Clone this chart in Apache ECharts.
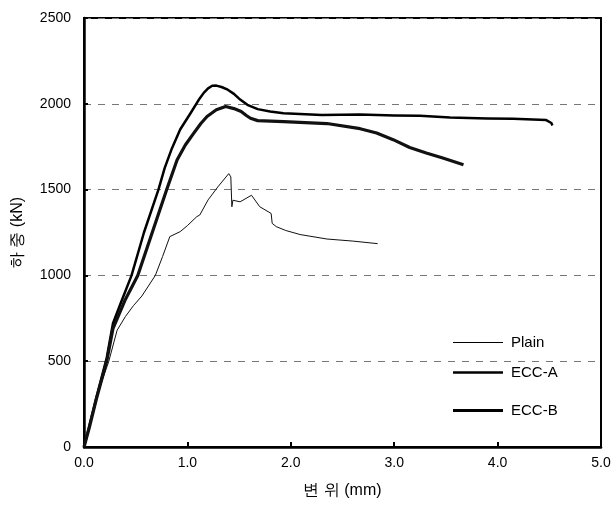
<!DOCTYPE html>
<html>
<head>
<meta charset="utf-8">
<script src="https://cdn.jsdelivr.net/npm/echarts@6/dist/echarts.min.js"></script>
<style>
  html, body { margin: 0; padding: 0; background: #fff; }
  #chart { width: 615px; height: 519px; }
</style>
</head>
<body>
<div id="chart"></div>
<script>
// Load–displacement curves
const xTicks = [0, 1, 2, 3, 4, 5];
const yTicks = [0, 500, 1000, 1500, 2000, 2500];

const plainDisp = [0, 0.05, 0.10, 0.16, 0.24, 0.32, 0.40, 0.48, 0.56, 0.69, 0.76, 0.83, 0.93, 1.00, 1.09, 1.12, 1.20, 1.30, 1.40, 1.42, 1.43, 1.44, 1.51, 1.62, 1.70, 1.81, 1.82, 1.86, 1.95, 2.09, 2.35, 2.60, 2.84];
const plainLoad = [0, 110, 230, 360, 500, 680, 760, 825, 880, 1000, 1110, 1226, 1255, 1290, 1342, 1352, 1440, 1520, 1593, 1574, 1400, 1438, 1429, 1467, 1400, 1361, 1303, 1284, 1262, 1238, 1212, 1200, 1185];

const eccADisp = [0, 0.05, 0.12, 0.22, 0.28, 0.35, 0.46, 0.58, 0.72, 0.78, 0.85, 0.93, 1.03, 1.11, 1.16, 1.20, 1.24, 1.28, 1.33, 1.39, 1.45, 1.50, 1.58, 1.68, 1.80, 1.93, 2.30, 2.67, 3.00, 3.25, 3.54, 3.90, 4.15, 4.47, 4.52, 4.53];
const eccALoad = [0, 120, 290, 520, 720, 830, 1000, 1250, 1500, 1625, 1740, 1850, 1945, 2023, 2065, 2090, 2105, 2106, 2098, 2082, 2058, 2030, 1994, 1969, 1955, 1945, 1935, 1938, 1932, 1930, 1920, 1915, 1913, 1905, 1888, 1874];

const eccBDisp = [0, 0.05, 0.12, 0.22, 0.28, 0.40, 0.52, 0.66, 0.80, 0.90, 0.98, 1.06, 1.13, 1.19, 1.28, 1.37, 1.45, 1.52, 1.57, 1.61, 1.68, 1.93, 2.35, 2.67, 2.83, 2.99, 3.15, 3.31, 3.47, 3.67];
const eccBLoad = [0, 110, 280, 500, 690, 860, 1000, 1250, 1500, 1672, 1760, 1828, 1885, 1926, 1965, 1984, 1972, 1955, 1932, 1916, 1902, 1896, 1885, 1855, 1830, 1791, 1745, 1713, 1684, 1645];

const seriesNames = ['Plain', 'ECC-A', 'ECC-B'];
const lineWidths = [1, 2.5, 3.2];

function pairs(xs, ys) { return xs.map((x, i) => [x, ys[i]]); }

const chart = echarts.init(document.getElementById('chart'));
const font = 'Liberation Sans, Arial, sans-serif';

function legendFor(i, top) {
  return {
    data: [seriesNames[i]],
    left: 448,
    top: top,
    orient: 'vertical',
    icon: 'rect',
    itemWidth: 50,
    itemHeight: lineWidths[i],
    itemGap: 0,
    itemStyle: { color: '#000' },
    textStyle: { fontFamily: font, fontSize: 15, color: '#000', padding: [0, 0, 0, 3] },
    selectedMode: false
  };
}

chart.setOption({
  animation: false,
  backgroundColor: '#fff',
  grid: {
    left: 84, right: 14, top: 18, bottom: 72,
    show: true, borderColor: '#000', borderWidth: 2
  },
  legend: [legendFor(0, 330), legendFor(1, 360), legendFor(2, 398)],
  xAxis: {
    type: 'value',
    min: xTicks[0], max: xTicks[xTicks.length - 1], interval: 1,
    name: '변 위 (mm)',
    nameLocation: 'middle',
    nameGap: 36,
    nameTextStyle: { fontFamily: font, fontSize: 16, color: '#000' },
    axisLine: { show: true, lineStyle: { color: '#000', width: 2.5 } },
    axisTick: { show: true, inside: true, length: 5, lineStyle: { color: '#000', width: 2 } },
    axisLabel: { fontFamily: font, fontSize: 14, color: '#000', margin: 9, formatter: v => v.toFixed(1) },
    splitLine: { show: false }
  },
  yAxis: {
    type: 'value',
    min: yTicks[0], max: yTicks[yTicks.length - 1], interval: 500,
    name: '하 중 (kN)',
    nameLocation: 'middle',
    nameRotate: 90,
    nameGap: 58,
    nameTextStyle: { fontFamily: font, fontSize: 16, color: '#000' },
    axisLine: { show: true, lineStyle: { color: '#000', width: 2.5 } },
    axisTick: { show: true, inside: true, length: 4, lineStyle: { color: '#000', width: 2 } },
    axisLabel: { fontFamily: font, fontSize: 14, color: '#000', margin: 13, formatter: v => String(v) },
    splitLine: {
      show: true,
      lineStyle: { color: '#777', width: 1, type: [7, 7] }
    }
  },
  series: [
    { name: seriesNames[0], type: 'line', data: pairs(plainDisp, plainLoad), showSymbol: false, symbol: 'none',
      lineStyle: { color: '#111', width: lineWidths[0] }, itemStyle: { color: '#000' }, z: 3 },
    { name: seriesNames[1], type: 'line', data: pairs(eccADisp, eccALoad), showSymbol: false, symbol: 'none',
      lineStyle: { color: '#000', width: lineWidths[1], join: 'round' }, itemStyle: { color: '#000' }, z: 4 },
    { name: seriesNames[2], type: 'line', data: pairs(eccBDisp, eccBLoad), showSymbol: false, symbol: 'none',
      lineStyle: { color: '#111', width: lineWidths[2], join: 'round' }, itemStyle: { color: '#000' }, z: 5 }
  ]
});
</script>
</body>
</html>
